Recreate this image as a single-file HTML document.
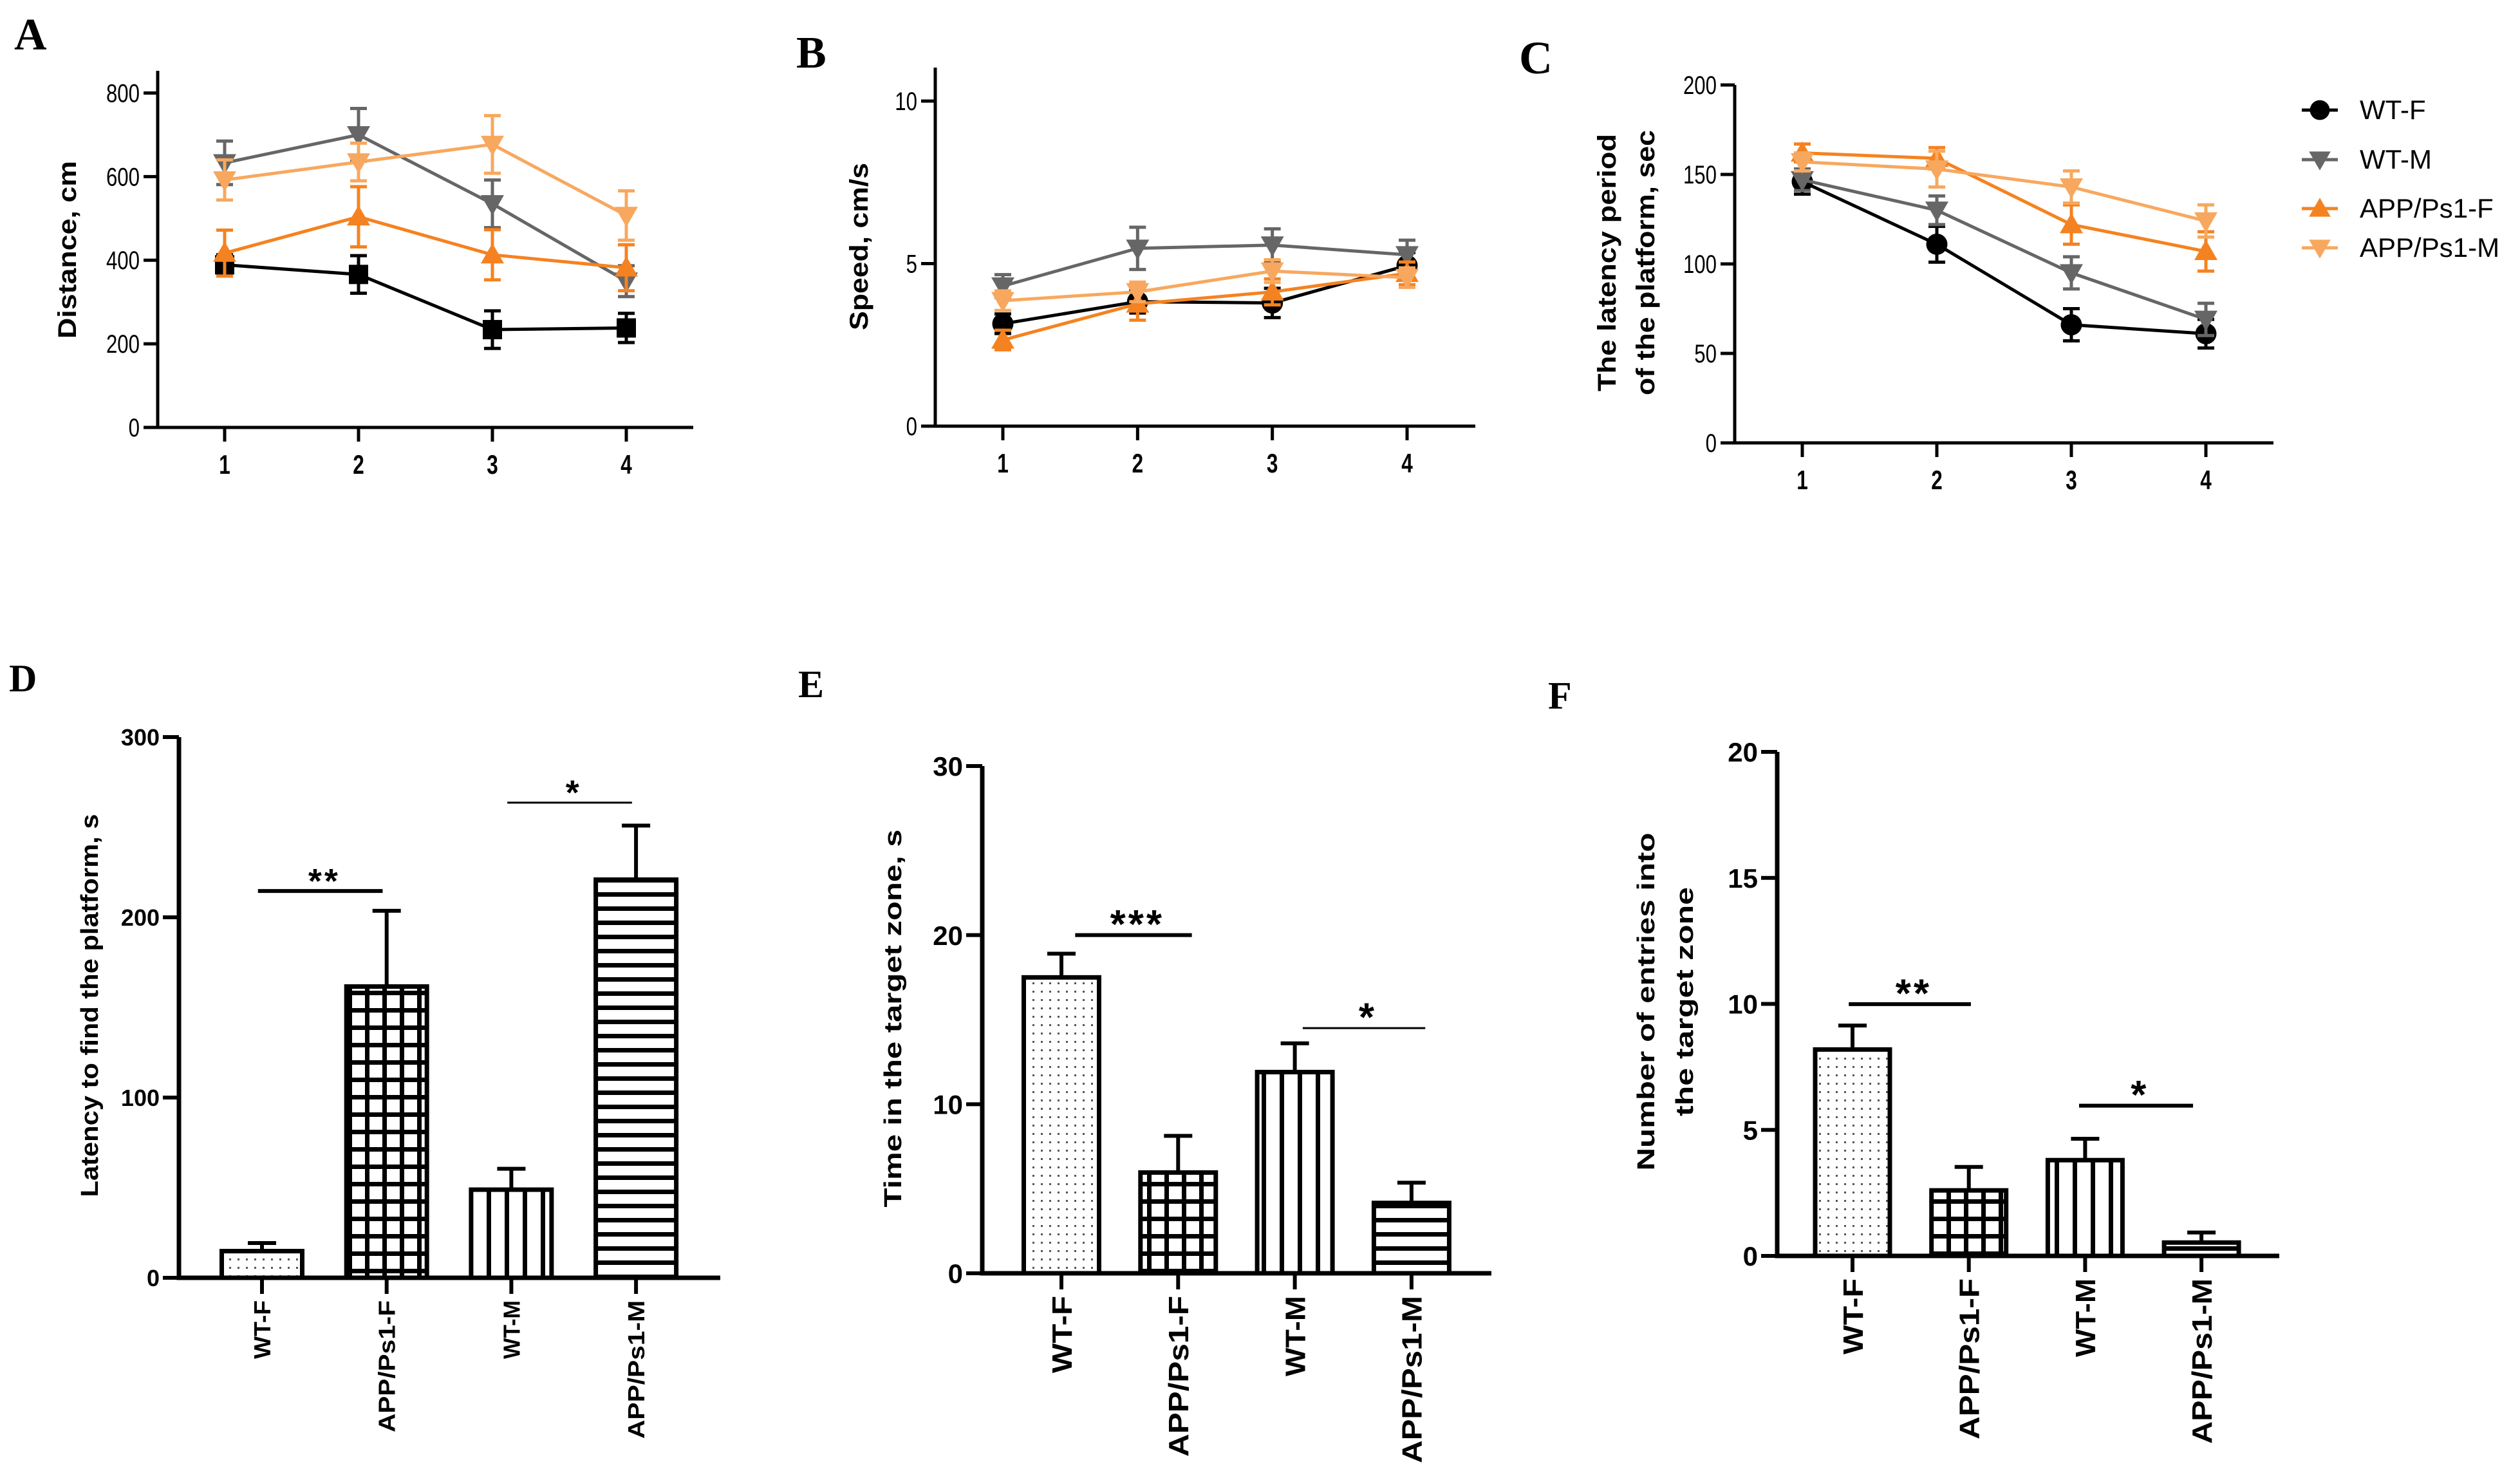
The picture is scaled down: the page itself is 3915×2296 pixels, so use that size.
<!DOCTYPE html>
<html><head><meta charset="utf-8"><style>
html,body{margin:0;padding:0;background:#fff}
svg{display:block;font-family:"Liberation Sans",sans-serif}
</style></head><body>
<svg id="fig" width="3915" height="2296" viewBox="0 0 3915 2296" xmlns="http://www.w3.org/2000/svg">
<defs>
<pattern id="pDots" patternUnits="userSpaceOnUse" width="13" height="13"><rect width="13" height="13" fill="#fff"/><rect x="5" y="5" width="3" height="3" fill="#555"/></pattern>
<pattern id="pGrid" patternUnits="userSpaceOnUse" width="27" height="27"><rect width="27" height="27" fill="#fff"/><rect x="0" y="0" width="7" height="27" fill="#000"/><rect x="0" y="0" width="27" height="7" fill="#000"/></pattern>
<pattern id="pVert" patternUnits="userSpaceOnUse" width="28" height="10"><rect width="28" height="10" fill="#fff"/><rect x="0" y="0" width="7" height="10" fill="#000"/></pattern>
<pattern id="pHor" patternUnits="userSpaceOnUse" width="10" height="22"><rect width="10" height="22" fill="#fff"/><rect x="0" y="0" width="10" height="7" fill="#000"/></pattern>
</defs>
<text x="22" y="77" style="font-family:'Liberation Serif',serif" font-weight="bold" font-size="70">A</text>
<text x="1237" y="105" style="font-family:'Liberation Serif',serif" font-weight="bold" font-size="70">B</text>
<text x="2360" y="114" style="font-family:'Liberation Serif',serif" font-weight="bold" font-size="72">C</text>
<text x="14" y="1074" style="font-family:'Liberation Serif',serif" font-weight="bold" font-size="60">D</text>
<text x="1240" y="1083" style="font-family:'Liberation Serif',serif" font-weight="bold" font-size="60">E</text>
<text x="2405" y="1101" style="font-family:'Liberation Serif',serif" font-weight="bold" font-size="60">F</text>
</svg>
<script>
// ---------- Data ----------
var days = [1, 2, 3, 4];
var seriesNames = ["WT-F", "WT-M", "APP/Ps1-F", "APP/Ps1-M"];
// Panel A: distance, cm
var distWTF = [389, 366, 234, 238];
var distWTFerr = [24, 45, 45, 35];
var distWTM = [633, 700, 535, 350];
var distWTMerr = [52, 63, 57, 37];
var distAPPF = [417, 504, 413, 382];
var distAPPFerr = [55, 72, 60, 55];
var distAPPM = [592, 635, 677, 507];
var distAPPMerr = [48, 45, 69, 59];
var distTicks = [0, 200, 400, 600, 800];
// Panel B: speed, cm/s
var spdWTF = [3.15, 3.83, 3.79, 4.94];
var spdWTFerr = [0.3, 0.35, 0.45, 0.4];
var spdWTM = [4.31, 5.47, 5.57, 5.27];
var spdWTMerr = [0.35, 0.65, 0.5, 0.45];
var spdAPPF = [2.65, 3.76, 4.13, 4.7];
var spdAPPFerr = [0.3, 0.5, 0.4, 0.35];
var spdAPPM = [3.86, 4.13, 4.77, 4.57];
var spdAPPMerr = [0.3, 0.3, 0.35, 0.3];
var spdTicks = [0, 5, 10];
// Panel C: latency, sec
var latWTF = [146, 111, 66, 61];
var latWTFerr = [7, 10, 9, 8];
var latWTM = [147, 130, 95, 69];
var latWTMerr = [6, 8, 9, 9];
var latAPPF = [162, 159, 122, 107];
var latAPPFerr = [5, 6, 11, 11];
var latAPPM = [157, 153, 143, 124];
var latAPPMerr = [5, 10, 9, 9];
var latTicks = [0, 50, 100, 150, 200];
// Bar panels
var groups = ["WT-F", "APP/Ps1-F", "WT-M", "APP/Ps1-M"];
var dVals = [14.8, 161.6, 48.9, 220.9];
var dErr = [4.5, 42, 11.6, 30];
var dTicks = [0, 100, 200, 300];
var eVals = [17.5, 5.96, 11.9, 4.16];
var eErr = [1.4, 2.17, 1.7, 1.2];
var eTicks = [0, 10, 20, 30];
var fVals = [8.19, 2.6, 3.8, 0.53];
var fErr = [0.95, 0.93, 0.85, 0.4];
var fTicks = [0, 5, 10, 15, 20];

var NS = "http://www.w3.org/2000/svg";
var svg = document.getElementById("fig");
function mk(tag, attrs, parent) {
  var e = document.createElementNS(NS, tag);
  for (var k in attrs) e.setAttribute(k, attrs[k]);
  (parent || svg).appendChild(e);
  return e;
}
function scale(d0, d1, r0, r1) { return function (v) { return r0 + (v - d0) / (d1 - d0) * (r1 - r0); }; }

var colors = ["#000000", "#666666", "#f58220", "#f7a85e"];
var shapes = ["circle", "tridown", "triup", "tridown"];
function marker(g, shape, cx, cy, col, s, nm) {
  var el;
  if (shape === "circle") el = mk("circle", {cx: cx, cy: cy, r: s * 0.55, fill: col}, g);
  else if (shape === "square") el = mk("rect", {x: cx - s * 0.5, y: cy - s * 0.5, width: s, height: s, fill: col}, g);
  else if (shape === "triup") el = mk("polygon", {points: (cx - s * 0.6) + "," + (cy + s * 0.45) + " " + (cx + s * 0.6) + "," + (cy + s * 0.45) + " " + cx + "," + (cy - s * 0.6), fill: col}, g);
  else el = mk("polygon", {points: (cx - s * 0.6) + "," + (cy - s * 0.45) + " " + (cx + s * 0.6) + "," + (cy - s * 0.45) + " " + cx + "," + (cy + s * 0.6), fill: col}, g);
  
  
}

function linePanel(cfg) {
  var g = mk("g", {});
  
  
  var x = scale(1, 4, cfg.x1, cfg.x4);
  var y = scale(0, cfg.ymax, cfg.y0, cfg.ytop);
  for (var s = 0; s < cfg.series.length; s++) {
    var vals = cfg.series[s], errs = cfg.errs[s], col = colors[s];
    var sg = mk("g", {}, g);
    
    
    var pts = days.map(function (d, i) { return x(d) + "," + y(vals[i]); }).join(" ");
    var pl = mk("polyline", {points: pts, fill: "none", stroke: col, "stroke-width": 5}, sg);
    
    
    for (var i = 0; i < days.length; i++) {
      var cx = x(days[i]);
      var eb = mk("path", {d: "M" + cx + "," + y(vals[i] - errs[i]) + "V" + y(vals[i] + errs[i]) + "M" + (cx - 13) + "," + y(vals[i] + errs[i]) + "h26M" + (cx - 13) + "," + y(vals[i] - errs[i]) + "h26", stroke: col, "stroke-width": 5, fill: "none"}, sg);
      
      
      marker(sg, (cfg.firstSquare && s === 0) ? "square" : shapes[s], cx, y(vals[i]), col, 30, 'data-point');
    }
  }
  var ax = mk("path", {d: "M" + cfg.ax + "," + cfg.axTop + "V" + cfg.y0 + "H" + cfg.xEnd, stroke: "#000", "stroke-width": 5, fill: "none"}, g);
  
  
  cfg.ticks.forEach(function (t) {
    var tk = mk("line", {x1: cfg.ax - 22, x2: cfg.ax, y1: y(t), y2: y(t), stroke: "#000", "stroke-width": 5}, g);
    
    
    var tl = mk("text", {x: cfg.ax - 28, y: y(t) + 14, "text-anchor": "end", "font-size": 40, transform: "translate(" + (cfg.ax - 28) + ",0) scale(0.78,1) translate(" + (-(cfg.ax - 28)) + ",0)"}, g);
    tl.textContent = t;
    
    
  });
  days.forEach(function (d) {
    var tk = mk("line", {x1: x(d), x2: x(d), y1: cfg.y0, y2: cfg.y0 + 22, stroke: "#000", "stroke-width": 5}, g);
    
    
    var tl = mk("text", {x: x(d), y: cfg.y0 + 72, "text-anchor": "middle", "font-size": 42, "font-weight": "bold", transform: "translate(" + x(d) + ",0) scale(0.75,1) translate(" + (-x(d)) + ",0)"}, g);
    tl.textContent = d;
    
    
  });
  cfg.title.forEach(function (ln, i) {
    var t = mk("text", {x: 0, y: 0, "text-anchor": "middle", "font-size": 40, "font-weight": "bold", textLength: cfg.titleLen[i], lengthAdjust: "spacingAndGlyphs", transform: "translate(" + cfg.titleX[i] + "," + cfg.titleY + ") rotate(-90)"}, g);
    t.textContent = ln;
    
    
  });
}

linePanel({name: "panel-a-distance", series: [distWTF, distWTM, distAPPF, distAPPM], errs: [distWTFerr, distWTMerr, distAPPFerr, distAPPMerr], firstSquare: true,
  x1: 349, x4: 973, y0: 664, ytop: 144.5, ymax: 800, ax: 245, axTop: 110, xEnd: 1077, ticks: distTicks,
  title: ["Distance, cm"], titleX: [118], titleY: 388, titleLen: [276]});
linePanel({name: "panel-b-speed", series: [spdWTF, spdWTM, spdAPPF, spdAPPM], errs: [spdWTFerr, spdWTMerr, spdAPPFerr, spdAPPMerr],
  x1: 1558, x4: 2186, y0: 662, ytop: 157, ymax: 10, ax: 1453, axTop: 105, xEnd: 2292, ticks: spdTicks,
  title: ["Speed, cm/s"], titleX: [1348], titleY: 383, titleLen: [260]});
linePanel({name: "panel-c-latency", series: [latWTF, latWTM, latAPPF, latAPPM], errs: [latWTFerr, latWTMerr, latAPPFerr, latAPPMerr],
  x1: 2800, x4: 3427, y0: 688, ytop: 132, ymax: 200, ax: 2695, axTop: 132, xEnd: 3532, ticks: latTicks,
  title: ["The latency period", "of the platform, sec"], titleX: [2510, 2570], titleY: 408, titleLen: [400, 412]});

var lg = mk("g", {});


var legY = [171, 248, 324, 385];
seriesNames.forEach(function (n, i) {
  var eg = mk("g", {}, lg);
  
  
  var ln = mk("line", {x1: 3576, x2: 3632, y1: legY[i], y2: legY[i], stroke: colors[i], "stroke-width": 5}, eg);
  
  
  marker(eg, shapes[i], 3604, legY[i], colors[i], 28, 'legend-marker');
  var t = mk("text", {x: 3666, y: legY[i] + 14, "font-size": 42}, eg);
  t.textContent = n;
  
  
});

var fills = ["url(#pDots)", "url(#pGrid)", "url(#pVert)", "url(#pHor)"];
function barPanel(cfg) {
  var g = mk("g", {});
  
  
  var y = scale(0, cfg.ymax, cfg.y0, cfg.ytop);
  var bx = function (i) { return cfg.c0 + i * cfg.step; };
  cfg.vals.forEach(function (v, i) {
    var cx = bx(i);
    var eb = mk("path", {d: "M" + cx + "," + y(v) + "V" + y(v + cfg.errs[i]) + "M" + (cx - 22) + "," + y(v + cfg.errs[i]) + "h44", stroke: "#000", "stroke-width": 6, fill: "none"}, g);
    
    
    var r = mk("rect", {x: cx - cfg.bw / 2, y: y(v), width: cfg.bw, height: cfg.y0 - y(v), fill: fills[i], stroke: "#000", "stroke-width": 7}, g);
    
    
  });
  var ax = mk("path", {d: "M" + cfg.ax + "," + cfg.ytop + "V" + cfg.y0 + "H" + cfg.xEnd, stroke: "#000", "stroke-width": 7, fill: "none"}, g);
  
  
  cfg.ticks.forEach(function (t) {
    var tk = mk("line", {x1: cfg.ax - 25, x2: cfg.ax, y1: y(t), y2: y(t), stroke: "#000", "stroke-width": 6}, g);
    
    
    var tl = mk("text", {x: cfg.ax - 30, y: y(t) + cfg.tfs * 0.36, "text-anchor": "end", "font-size": cfg.tfs, "font-weight": "bold"}, g);
    tl.textContent = t;
    
    
  });
  groups.forEach(function (n, i) {
    var cx = bx(i);
    var tk = mk("line", {x1: cx, x2: cx, y1: cfg.y0, y2: cfg.y0 + 25, stroke: "#000", "stroke-width": 6}, g);
    
    
    var tl = mk("text", {x: 0, y: 0, "text-anchor": "end", "font-size": cfg.cfs, "font-weight": "bold", textLength: cfg.catLen[i], lengthAdjust: "spacingAndGlyphs", transform: "translate(" + (cx + cfg.cfs * 0.36) + "," + (cfg.y0 + 35) + ") rotate(-90)"}, g);
    tl.textContent = n;
    
    
  });
  cfg.sig.forEach(function (s) {
    var ln = mk("line", {x1: bx(s.a) - cfg.bw * 0.05, x2: bx(s.b) - cfg.bw * 0.05, y1: y(s.v), y2: y(s.v), stroke: "#000", "stroke-width": s.w}, g);
    
    
    var st = mk("text", {x: (bx(s.a) + bx(s.b)) / 2, y: y(s.v) - 8 + cfg.sfs * 0.2, "text-anchor": "middle", "font-size": cfg.sfs, "font-weight": "bold", "letter-spacing": 4}, g);
    st.textContent = s.t;
    
    
  });
  cfg.title.forEach(function (ln, i) {
    var t = mk("text", {x: 0, y: 0, "text-anchor": "middle", "font-size": 38, "font-weight": "bold", textLength: cfg.titleLen[i], lengthAdjust: "spacingAndGlyphs", transform: "translate(" + cfg.titleX[i] + "," + cfg.titleY + ") rotate(-90)"}, g);
    t.textContent = ln;
    
    
  });
}

barPanel({name: "panel-d-latency-bars", vals: dVals, errs: dErr, ymax: 300, y0: 1985, ytop: 1145, ax: 278, xEnd: 1119, c0: 407, step: 193.7, bw: 125, ticks: dTicks, tfs: 36, cfs: 36, sfs: 54,
  catLen: [91, 205, 91, 215],
  sig: [{a: 0, b: 1, v: 214.6, t: "**", w: 6}, {a: 2, b: 3, v: 263.6, t: "*", w: 3}],
  title: ["Latency to find the platform, s"], titleX: [152], titleY: 1562, titleLen: [595]});
barPanel({name: "panel-e-time-bars", vals: eVals, errs: eErr, ymax: 30, y0: 1978, ytop: 1190, ax: 1526, xEnd: 2317, c0: 1649, step: 181.3, bw: 117, ticks: eTicks, tfs: 42, cfs: 44, sfs: 62,
  catLen: [120, 250, 125, 260],
  sig: [{a: 0.15, b: 1.15, v: 20.0, t: "***", w: 6}, {a: 2.1, b: 3.15, v: 14.5, t: "*", w: 3}],
  title: ["Time in the target zone, s"], titleX: [1400], titleY: 1582, titleLen: [587]});
barPanel({name: "panel-f-entries-bars", vals: fVals, errs: fErr, ymax: 20, y0: 1951, ytop: 1168, ax: 2761, xEnd: 3541, c0: 2878, step: 180.7, bw: 116, ticks: fTicks, tfs: 42, cfs: 44, sfs: 62,
  catLen: [118, 250, 122, 257],
  sig: [{a: 0, b: 1.05, v: 9.99, t: "**", w: 6}, {a: 1.98, b: 2.96, v: 5.96, t: "*", w: 6}],
  title: ["Number of entries into", "the target  zone"], titleX: [2570, 2630], titleY: 1556, titleLen: [525, 356]});
</script>
</body></html>
